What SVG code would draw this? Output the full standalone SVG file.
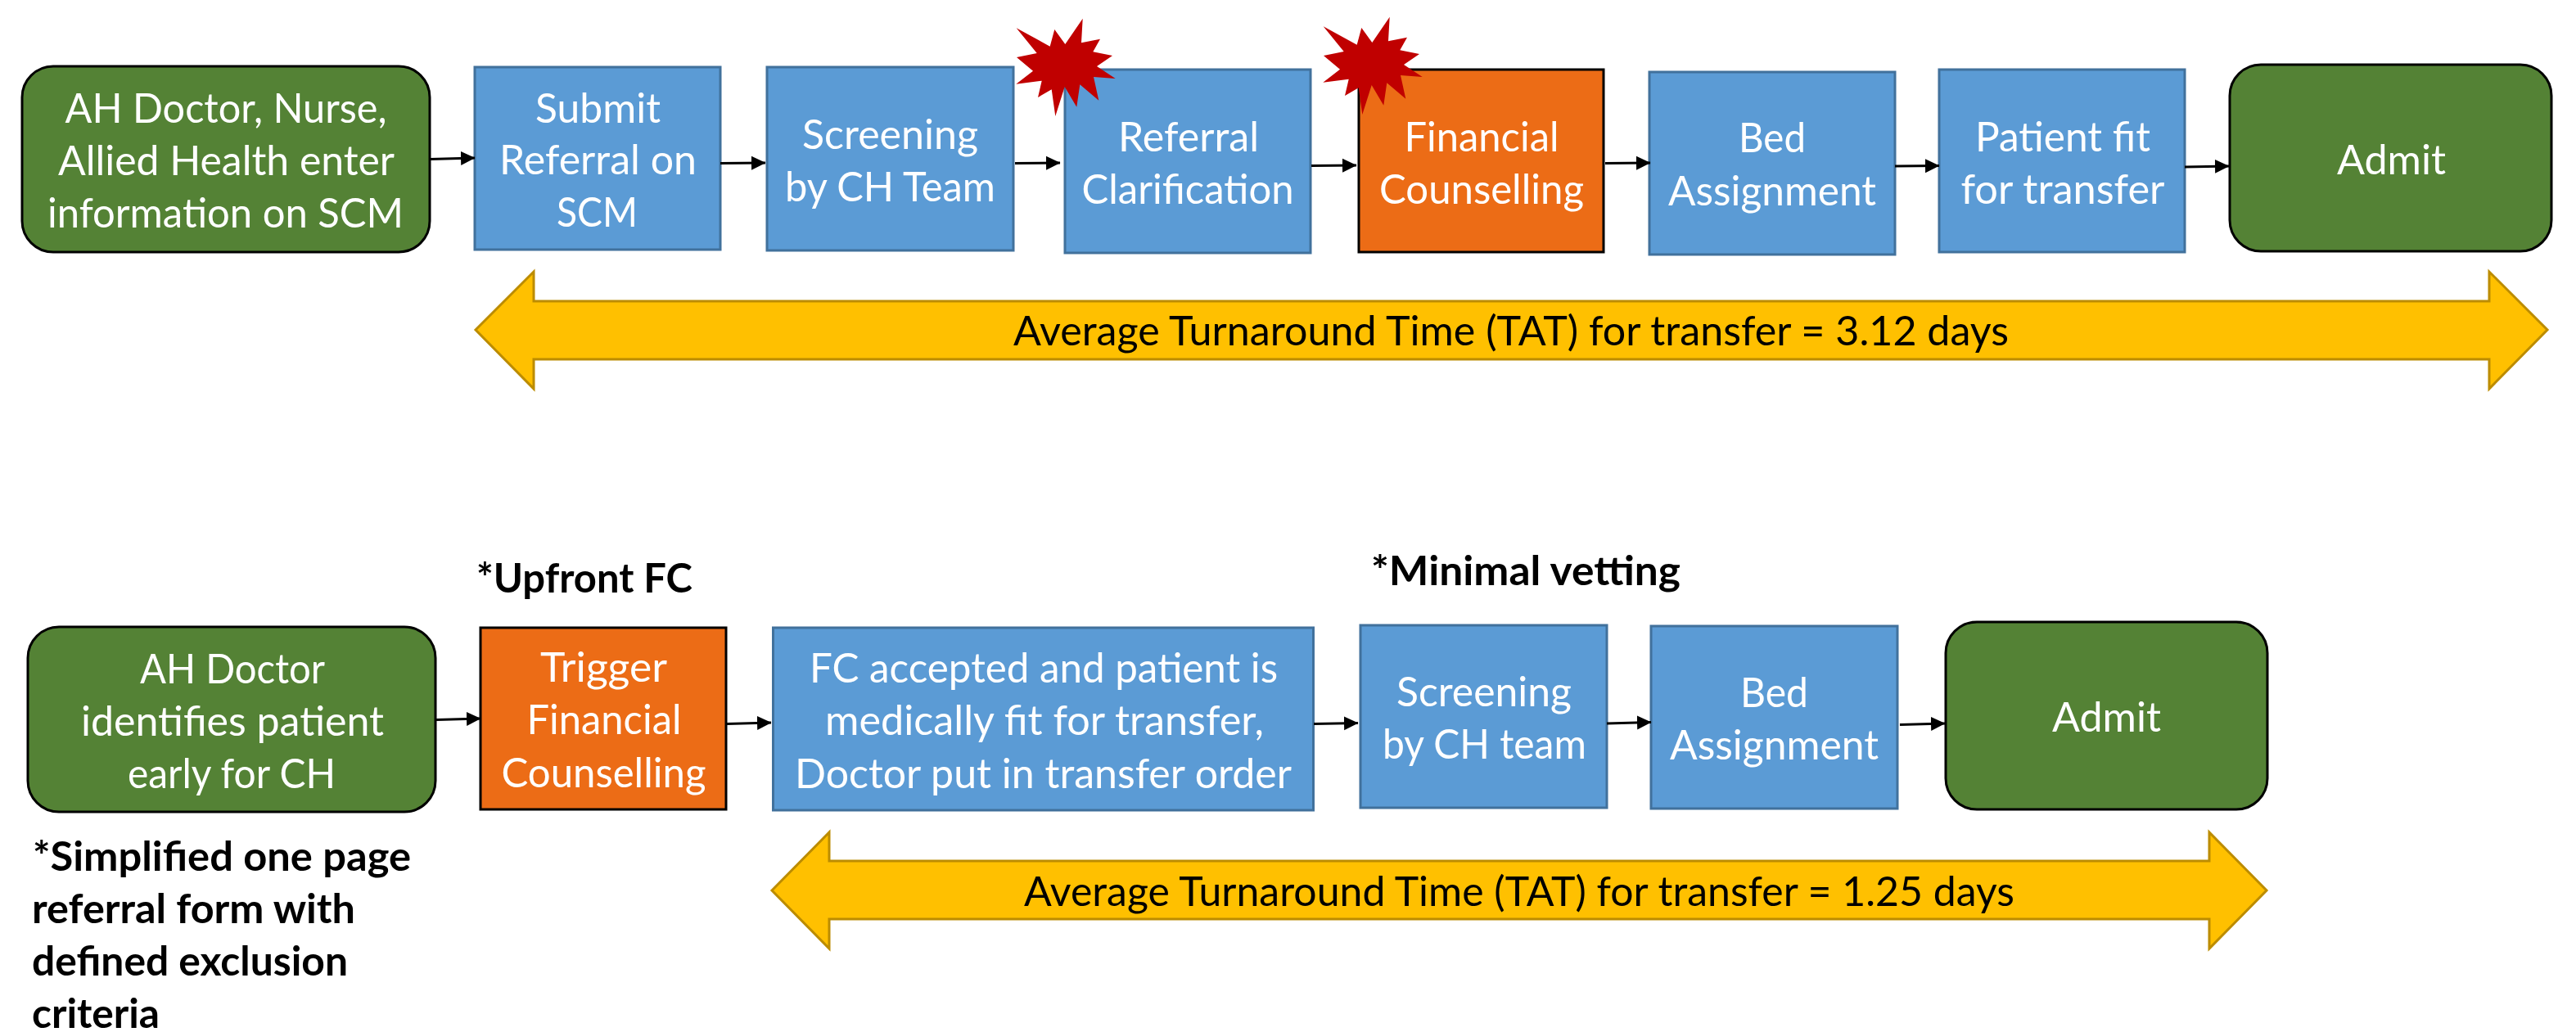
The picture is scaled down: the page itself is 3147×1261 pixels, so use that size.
<svg xmlns="http://www.w3.org/2000/svg" xmlns:xlink="http://www.w3.org/1999/xlink" width="3147" height="1261" viewBox="0 0 3147 1261">
<style>
text{font-family:Lato,"Liberation Sans",sans-serif;font-size:50px;text-anchor:middle;transform:translateY(1.5px)}
.w{fill:#fff}
.k{fill:#000}
.b{fill:#000;font-weight:700;text-anchor:start}
.blue{fill:#5B9BD5;stroke:#41719C;stroke-width:3}
.orange{fill:#EC6C16;stroke:#000;stroke-width:3}
.green{fill:#548235;stroke:#000;stroke-width:3}
.yellow{fill:#FFC000;stroke:#BC8C00;stroke-width:3;stroke-linejoin:miter}
.star{fill:#C00000}
.c{fill:none;stroke:#000;stroke-width:3;marker-end:url(#h)}
</style>
<defs>
<marker id="h" markerUnits="userSpaceOnUse" markerWidth="18" markerHeight="18" refX="17" refY="9" orient="auto"><path d="M0,0.500L17.500,9L0,17.500Z" fill="#000"/></marker>
<polygon id="burst" points="1322.7,22.7 1321,52.3 1344,47.7 1335.3,63.3 1359,68 1340,81 1362.7,96 1336,94 1342.3,122.7 1319.3,103.3 1315.3,130.7 1300.7,106 1289.3,142 1284.7,109.3 1268,119 1272.7,98.7 1241.3,102.7 1262,86.7 1242,70 1266.7,65 1241.7,34.3 1282.7,56.7 1288.3,36 1301.3,54" class="star"/>
</defs>
<rect width="3147" height="1261" fill="#fff"/>

<g id="tat-top">
<polygon class="yellow" points="581,403 652,332 652,368 3041,368 3041,332 3112,403 3041,475 3041,439 652,439 652,475"/>
<text class="k"><tspan x="1846" y="420" textLength="1216" lengthAdjust="spacingAndGlyphs">Average Turnaround Time (TAT) for transfer = 3.12 days</tspan></text>
</g>
<g id="tat-bottom">
<polygon class="yellow" points="943,1088 1013,1017 1013,1052 2699,1052 2699,1017 2769,1088 2699,1159 2699,1123 1013,1123 1013,1159"/>
<text class="k"><tspan x="1856" y="1105" textLength="1210" lengthAdjust="spacingAndGlyphs">Average Turnaround Time (TAT) for transfer = 1.25 days</tspan></text>
</g>

<g id="top-1"><rect class="green" x="27" y="81" width="498" height="227" rx="38" ry="38"/>
<text class="w"><tspan x="276" y="148" textLength="393" lengthAdjust="spacingAndGlyphs">AH Doctor, Nurse,</tspan><tspan x="276.500" y="212" textLength="411" lengthAdjust="spacingAndGlyphs">Allied Health enter</tspan><tspan x="275.500" y="276" textLength="435" lengthAdjust="spacingAndGlyphs">information on SCM</tspan></text></g>
<g id="top-2"><rect class="blue" x="580" y="82" width="300" height="223"/>
<text class="w"><tspan x="730.500" y="148" textLength="153" lengthAdjust="spacingAndGlyphs">Submit</tspan><tspan x="730.500" y="211" textLength="241" lengthAdjust="spacingAndGlyphs">Referral on</tspan><tspan x="729.500" y="275" textLength="99" lengthAdjust="spacingAndGlyphs">SCM</tspan></text></g>
<g id="top-3"><rect class="blue" x="937" y="82" width="301" height="224"/>
<text class="w"><tspan x="1087.500" y="180" textLength="215" lengthAdjust="spacingAndGlyphs">Screening</tspan><tspan x="1087.500" y="244" textLength="257" lengthAdjust="spacingAndGlyphs">by CH Team</tspan></text></g>
<g id="top-4"><rect class="blue" x="1301" y="85" width="300" height="224"/>
<text class="w"><tspan x="1452" y="183" textLength="172" lengthAdjust="spacingAndGlyphs">Referral</tspan><tspan x="1451" y="247" textLength="259" lengthAdjust="spacingAndGlyphs">Clarification</tspan></text></g>
<g id="top-5"><rect class="orange" x="1660" y="85" width="299" height="223"/>
<text class="w"><tspan x="1810" y="183" textLength="189" lengthAdjust="spacingAndGlyphs">Financial</tspan><tspan x="1810" y="247" textLength="250" lengthAdjust="spacingAndGlyphs">Counselling</tspan></text></g>
<g id="top-6"><rect class="blue" x="2015" y="88" width="300" height="223"/>
<text class="w"><tspan x="2165" y="184" textLength="82" lengthAdjust="spacingAndGlyphs">Bed</tspan><tspan x="2165" y="249" textLength="254" lengthAdjust="spacingAndGlyphs">Assignment</tspan></text></g>
<g id="top-7"><rect class="blue" x="2369" y="85" width="300" height="223"/>
<text class="w"><tspan x="2520" y="183" textLength="214" lengthAdjust="spacingAndGlyphs">Patient fit</tspan><tspan x="2520" y="247" textLength="249" lengthAdjust="spacingAndGlyphs">for transfer</tspan></text></g>
<g id="top-8"><rect class="green" x="2724" y="79" width="393" height="228" rx="38" ry="38"/>
<text class="w"><tspan x="2921.500" y="211" textLength="133" lengthAdjust="spacingAndGlyphs">Admit</tspan></text></g>

<g id="burst-1"><use xlink:href="#burst" href="#burst"/></g>
<g id="burst-2"><use xlink:href="#burst" href="#burst" transform="translate(375,-2)"/></g>

<g id="bottom-1"><rect class="green" x="34" y="766" width="498" height="226" rx="38" ry="38"/>
<text class="w"><tspan x="284" y="833" textLength="226" lengthAdjust="spacingAndGlyphs">AH Doctor</tspan><tspan x="284" y="897" textLength="370" lengthAdjust="spacingAndGlyphs">identifies patient</tspan><tspan x="283" y="961" textLength="254" lengthAdjust="spacingAndGlyphs">early for CH</tspan></text></g>
<g id="bottom-2"><rect class="orange" x="587" y="767" width="300" height="222"/>
<text class="w"><tspan x="737.500" y="831" textLength="155" lengthAdjust="spacingAndGlyphs">Trigger</tspan><tspan x="738" y="895" textLength="189" lengthAdjust="spacingAndGlyphs">Financial</tspan><tspan x="737.500" y="960" textLength="250" lengthAdjust="spacingAndGlyphs">Counselling</tspan></text></g>
<g id="bottom-3"><rect class="blue" x="944.500" y="767" width="660" height="223"/>
<text class="w"><tspan x="1275" y="832" textLength="572" lengthAdjust="spacingAndGlyphs">FC accepted and patient is</tspan><tspan x="1276" y="896" textLength="536" lengthAdjust="spacingAndGlyphs">medically fit for transfer,</tspan><tspan x="1274.500" y="961" textLength="607" lengthAdjust="spacingAndGlyphs">Doctor put in transfer order</tspan></text></g>
<g id="bottom-4"><rect class="blue" x="1662" y="764" width="301" height="223"/>
<text class="w"><tspan x="1813" y="861" textLength="214" lengthAdjust="spacingAndGlyphs">Screening</tspan><tspan x="1813.500" y="925" textLength="249" lengthAdjust="spacingAndGlyphs">by CH team</tspan></text></g>
<g id="bottom-5"><rect class="blue" x="2017" y="765" width="301" height="223"/>
<text class="w"><tspan x="2167.500" y="862" textLength="83" lengthAdjust="spacingAndGlyphs">Bed</tspan><tspan x="2167.500" y="926" textLength="255" lengthAdjust="spacingAndGlyphs">Assignment</tspan></text></g>
<g id="bottom-6"><rect class="green" x="2377" y="760" width="393" height="229" rx="38" ry="38"/>
<text class="w"><tspan x="2573.500" y="892" textLength="133" lengthAdjust="spacingAndGlyphs">Admit</tspan></text></g>

<g id="note-upfront"><text class="b"><tspan x="582" y="722" textLength="264" lengthAdjust="spacingAndGlyphs">*Upfront FC</tspan></text></g>
<g id="note-vetting"><text class="b"><tspan x="1675" y="713" textLength="378" lengthAdjust="spacingAndGlyphs">*Minimal vetting</tspan></text></g>
<g id="note-form"><text class="b"><tspan x="40" y="1062" textLength="462" lengthAdjust="spacingAndGlyphs">*Simplified one page</tspan><tspan x="39" y="1126" textLength="395" lengthAdjust="spacingAndGlyphs">referral form with</tspan><tspan x="39" y="1190" textLength="386" lengthAdjust="spacingAndGlyphs">defined exclusion</tspan><tspan x="39" y="1254" textLength="156" lengthAdjust="spacingAndGlyphs">criteria</tspan></text></g>

<g id="connectors">
<path class="c" d="M525,194.500L580,193"/>
<path class="c" d="M880,199.500L935,199"/>
<path class="c" d="M1240,199.500L1295,199"/>
<path class="c" d="M1602,202.500L1657,202"/>
<path class="c" d="M1961,199.500L2016,199"/>
<path class="c" d="M2315,203L2369,202.500"/>
<path class="c" d="M2669,204L2723,203"/>
<path class="c" d="M533,879.500L587,878"/>
<path class="c" d="M888,884.500L942,883"/>
<path class="c" d="M1605,884.500L1659,883.500"/>
<path class="c" d="M1963,884L2017,882.500"/>
<path class="c" d="M2321,885.500L2376,884"/>
</g>
</svg>
